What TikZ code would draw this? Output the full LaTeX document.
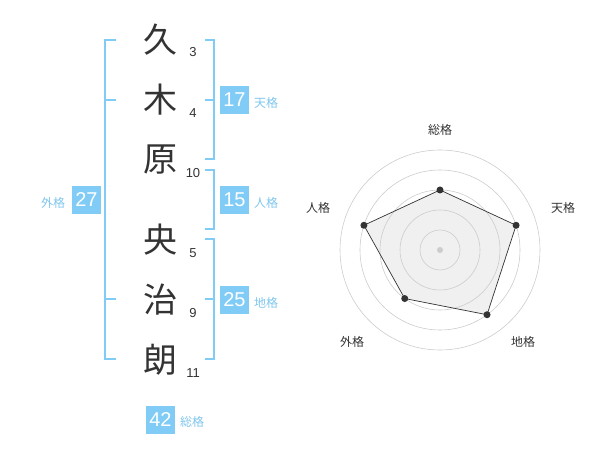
\documentclass[tikz,border=0pt]{standalone}
\usepackage{fontspec}
\setmainfont{Liberation Sans}
\newfontfamily\cjk{Noto Sans CJK JP}
\definecolor{sky}{HTML}{80CCF7}
\definecolor{skytext}{HTML}{7FC6EE}
\definecolor{ink}{HTML}{333333}
\definecolor{ring}{HTML}{CCCCCC}
\definecolor{fillgray}{HTML}{F0F0F0}
\tikzset{
  kanji/.style={font=\cjk\fontsize{34}{34}\selectfont, text=ink, inner sep=0pt},
  strokes/.style={font=\fontsize{13}{13}\selectfont, text=ink, inner sep=0pt},
  bracket/.style={draw=sky, line width=1.5pt},
  numbox/.style={fill=sky, text=white, minimum width=29pt, minimum height=28pt, inner sep=0pt, font=\fontsize{20}{20}\selectfont},
  kaku/.style={text=skytext, font=\cjk\fontsize{12}{12}\selectfont, inner sep=0pt},
  axlabel/.style={text=ink, font=\cjk\fontsize{12}{12}\selectfont, inner sep=0pt},
  ringc/.style={draw=ring, line width=0.6pt},
  vdot/.style={circle, fill=ink, inner sep=0pt, minimum size=7pt},
}
\begin{document}
\begin{tikzpicture}[x=1pt,y=-1pt]
\useasboundingbox (0,0) rectangle (600,470);
% characters
\node[kanji] (c1) at (160,40) {久};
\node[kanji] (c2) at (160,100) {木};
\node[kanji] (c3) at (160,160) {原};
\node[kanji] (c4) at (160,240) {央};
\node[kanji] (c5) at (160,300) {治};
\node[kanji] (c6) at (160,360) {朗};
\node[strokes] (s1) at (193,52) {3};
\node[strokes] (s2) at (193,113) {4};
\node[strokes] (s3) at (193,173) {10};
\node[strokes] (s4) at (193,253) {5};
\node[strokes] (s5) at (193,313) {9};
\node[strokes] (s6) at (193,373) {11};
% left bracket (gaikaku)
\coordinate (lt) at (105,40); \coordinate (lb) at (105,359);
\draw[bracket] (116,40) -- (lt) -- (lb) -- (116,359);
\draw[bracket] (105,100) -- (116,100);
\draw[bracket] (105,299) -- (116,299);
\node[numbox] (b27) at (86.5,200) {27};
\node[kaku] (l27) at (53,203) {外格};
% tenkaku bracket
\draw[bracket] (205,40) -- (214,40) -- (214,159) -- (205,159);
\draw[bracket] (205,100) -- (214,100);
\node[numbox] (b17) at (234.5,100) {17};
\node[kaku] (l17) at (266,103) {天格};
% jinkaku bracket
\draw[bracket] (205,170) -- (214,170) -- (214,229) -- (205,229);
\node[numbox] (b15) at (234.5,200) {15};
\node[kaku] (l15) at (266,203) {人格};
% chikaku bracket
\draw[bracket] (205,239) -- (214,239) -- (214,359) -- (205,359);
\draw[bracket] (205,299) -- (214,299);
\node[numbox] (b25) at (234.5,300) {25};
\node[kaku] (l25) at (266,303) {地格};
% soukaku
\node[numbox] (b42) at (160.5,419.5) {42};
\node[kaku] (l42) at (192,422) {総格};
% radar
\begin{scope}[shift={(440,250)}, y=1pt]
  \coordinate (p1) at (90:60);
  \coordinate (p2) at (18:80);
  \coordinate (p3) at (-54:80);
  \coordinate (p4) at (-126:60);
  \coordinate (p5) at (162:80);
  \fill[fillgray] (p1) -- (p2) -- (p3) -- (p4) -- (p5) -- cycle;
  \foreach \r in {20,40,60,80,100} \draw[ringc] (0,0) circle (\r);
  \draw[ink, line width=0.7pt] (p1) -- (p2) -- (p3) -- (p4) -- (p5) -- cycle;
  \foreach \p in {p1,p2,p3,p4,p5} \node[vdot] at (\p) {};
  \node[circle, fill=ring, inner sep=0pt, minimum size=6pt] (ctr) at (0,0) {};
  \node[axlabel] (a1) at (90:120) {総格};
  \node[axlabel] (a2) at (0:0) [xshift=123pt, yshift=42pt] {天格};
  \node[axlabel] (a3) at (0:0) [xshift=83pt, yshift=-92pt] {地格};
  \node[axlabel] (a4) at (0:0) [xshift=-88pt, yshift=-92pt] {外格};
  \node[axlabel] (a5) at (0:0) [xshift=-122pt, yshift=42pt] {人格};
\end{scope}
\end{tikzpicture}
\end{document}
